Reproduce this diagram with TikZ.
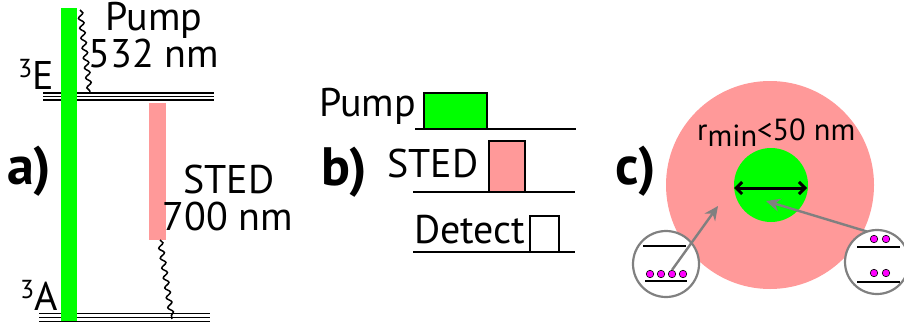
\documentclass[tikz,border=0pt]{standalone}
\usepackage{fontspec}
\setmainfont{PT Sans}
\usetikzlibrary{decorations.pathmorphing,arrows.meta}
\definecolor{pgreen}{HTML}{00FF00}
\definecolor{ppink}{HTML}{FF9999}
\definecolor{cgray}{HTML}{808080}
\definecolor{dotmag}{HTML}{FF00FF}
\tikzset{
  lbl/.style={font=\fontsize{40}{42}\selectfont, inner sep=0pt},
  small/.style={font=\fontsize{30.5}{32}\selectfont, inner sep=0pt},
  panel/.style={font=\fontsize{54}{56}\selectfont\bfseries, inner sep=0pt},
  level/.style={line width=1.7pt, black},
  wavy/.style={decorate, decoration={snake, amplitude=2.5pt, segment length=10pt}, line width=1.5pt},
  tline/.style={line width=2.2pt, black},
  pulse/.style={draw=black, line width=2.2pt, inner sep=0pt, outer sep=0pt},
  lens/.style={draw=cgray, line width=2.2pt, fill=white, circle, inner sep=0pt, outer sep=0pt},
  garrow/.style={draw=cgray, line width=2.4pt, -{Stealth[length=14pt,width=13pt]}},
  dot/.style={circle, fill=dotmag, draw=black, line width=0.6pt, minimum size=7.5pt, inner sep=0pt},
  minline/.style={line width=2.2pt, black},
  darrow/.style={line width=3pt, {Straight Barb[length=6pt,width=12pt]}-{Straight Barb[length=6pt,width=12pt]}}
}
\begin{document}
\begin{tikzpicture}[x=1pt,y=-1pt]
\useasboundingbox (0,0) rectangle (904,327);

% ---------- panel a ----------
\foreach \yy in {93,96.5,100} \draw[level] (43,\yy) -- (214,\yy);
\foreach \yy in {313.5,317.5,321.5} \draw[level] (39,\yy) -- (210,\yy);
\fill[pgreen] (61,8) rectangle (77,321);
\fill[ppink] (149,103) rectangle (166,240);
\coordinate (wpA) at (80,10);
\coordinate (wpB) at (90,93);
\coordinate (wsA) at (160,240);
\coordinate (wsB) at (172,319);
\draw[wavy] (wpA) -- (wpB);
\draw[wavy] (wsA) -- (wsB);
\node[lbl, anchor=base] (pumpa) at (154,30) {Pump};
\node[lbl, anchor=base] (pumpwl) at (154,67) {532 nm};
\node[lbl, anchor=base] (steda) at (229,193) {STED};
\node[lbl, anchor=base] (stedwl) at (228,230) {700 nm};
\node[lbl, anchor=base east] (lvlE) at (54,89) {{\fontsize{26}{26}\selectfont\raisebox{12pt}{3}}E};
\node[lbl, anchor=base east] (lvlA) at (58,310) {{\fontsize{26}{26}\selectfont\raisebox{12pt}{3}}A};
\node[panel, anchor=base west] (pa) at (7,184) {a)};

% ---------- panel b ----------
\draw[tline] (415,129) -- (576,129);
\draw[tline] (413,192) -- (575,192);
\draw[tline] (413,252) -- (575,252);
\node[pulse, fill=pgreen, minimum width=63pt, minimum height=36pt, anchor=south west] (pp) at (424,129) {};
\node[pulse, fill=ppink, minimum width=36pt, minimum height=51pt, anchor=south west] (sp) at (489,192) {};
\node[pulse, fill=white, minimum width=29pt, minimum height=36pt, anchor=south west] (dp) at (530,252) {};
\node[lbl, anchor=base west] (pumpb) at (319,116) {Pump};
\node[lbl, anchor=base west] (stedb) at (387,177) {STED};
\node[lbl, anchor=base west] (detb) at (414,243) {Detect};
\node[panel, anchor=base west] (pb) at (321,185) {b)};

% ---------- panel c ----------
\fill[ppink] (770,185) circle (104pt);
\fill[pgreen] (771,185) circle (37pt);
\coordinate (dL) at (734,188);
\coordinate (dR) at (807,188);
\draw[darrow] (dL) -- (dR);
\node[small, anchor=base west] (rmin) at (697,140) {r\raisebox{-6pt}{min}<50 nm};
\node[panel, anchor=base west] (pc) at (615,184) {c)};

\node[lens, minimum size=66pt] (lc) at (666,264) {};
\node[lens, minimum size=64pt] (rc) at (877,262) {};
\draw[minline] (643,246) -- (686,246);
\draw[minline] (645,281) -- (687,281);
\draw[minline] (857,247) -- (900,247);
\draw[minline] (857,282) -- (900,282);
\foreach \xx/\nm in {650/a,661/b,672/c,683/d} \node[dot] (l\nm) at (\xx,274) {};
\foreach \xx/\nm in {874/a,886/b} {
  \node[dot] (ru\nm) at (\xx,239) {};
  \node[dot] (rl\nm) at (\xx,273) {};
}
\coordinate (tL) at (718,206);
\coordinate (tR) at (766,201);
\draw[garrow] (lc.north) -- (tL);
\draw[garrow] (rc.108) -- (tR);
\end{tikzpicture}
\end{document}
